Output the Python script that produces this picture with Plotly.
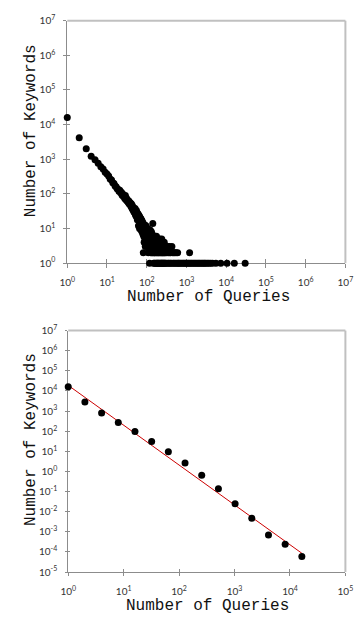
import plotly.graph_objects as go

# ---------------- data: top panel (raw distribution) ----------------
head_x = [1, 2, 3, 4]
head_y = [16000, 4150, 2000, 1230]

body1_x = list(range(5, 101))
body1_y = [960, 770, 610, 520, 420, 375, 330, 270, 250, 210, 200, 170, 160, 140, 135, 120,
           128, 108, 112, 92, 99, 84, 88, 74, 90, 68, 75, 62, 66, 57, 63, 52, 58, 49, 54, 44,
           52, 40, 47, 36, 42, 33, 39, 30, 36, 28, 38, 25, 31, 23, 33, 22, 29, 18, 27, 20,
           26, 12, 24, 17, 23, 10, 21, 15, 20, 13, 19, 9, 18, 12, 17, 8, 16, 11, 15, 7,
           9, 2, 12, 6, 10, 4, 13, 7, 9, 5, 11, 3, 8, 10, 6, 12, 4, 9, 7, 8]

body2_x = list(range(101, 161))
body2_y = [5, 9, 3, 7, 6, 10, 4, 8, 2, 6, 5, 9, 3, 7, 4, 8, 6, 1, 5, 7,
           3, 9, 4, 6, 2, 5, 7, 3, 6, 4, 8, 2, 5, 3, 6, 4, 7, 2, 5, 3,
           6, 14, 4, 5, 2, 6, 3, 4, 1, 5, 3, 4, 2, 6, 3, 1, 4, 2, 5, 3]

body3_x = [162, 164, 166, 168, 170, 172, 174, 176, 178, 180, 182, 184, 186, 188, 190, 192, 194,
           196, 198, 200, 203, 206, 209, 212, 215, 218, 221, 224, 227, 230, 233, 236, 239, 242,
           245, 248, 251, 254, 257, 260, 264, 268, 272, 276, 280, 284, 288, 292, 296, 300]
body3_y = [4, 2, 5, 1, 3, 4, 2, 6, 1, 3, 2, 4, 1, 3, 5, 2, 1, 3, 4, 2,
           1, 3, 2, 5, 1, 3, 2, 4, 1, 2, 3, 1, 5, 2, 1, 3, 2, 4, 1, 2,
           3, 1, 2, 4, 1, 2, 3, 1, 2, 3]

body4_x = [310, 320, 330, 340, 350, 360, 370, 380, 390, 400, 415, 430, 445, 460, 475, 490,
           510, 530, 550, 575, 600, 620]
body4_y = [1, 2, 3, 1, 2, 1, 3, 2, 1, 2, 1, 3, 2, 1, 2, 1, 2, 1, 2, 1, 2, 1]

tail_x = [650, 700, 760, 820, 880, 950, 1020, 1100, 1200, 1180, 1280, 1380, 1500, 1620, 1750,
          1900, 2050, 2200, 2400, 2600, 2800, 3000, 3300, 3600, 4000, 4500, 5500, 7300, 10500,
          16000, 30000]
tail_y = [1, 1, 1, 1, 1, 1, 1, 1, 2, 1, 1, 1, 1, 1, 1, 1, 1, 1, 1, 1, 1, 1, 1, 1, 1, 1, 1, 1,
          1, 1, 1]

top_x = head_x + body1_x + body2_x + body3_x + body4_x + tail_x
top_y = head_y + body1_y + body2_y + body3_y + body4_y + tail_y

# ---------------- data: bottom panel (log-binned) ----------------
bin_x = [1, 2, 4, 8, 16, 32, 64, 128, 256, 512, 1024, 2048, 4096, 8192, 16384]
bin_y = [16000, 2850, 800, 272, 96, 31, 9.5, 2.6, 0.65, 0.14, 0.025, 0.0047, 0.0007,
         0.00024, 0.00006]
fit_a = 1.9e4
fit_b = -1.98
fit_x = [1, 16384]
fit_y = [fit_a * v ** fit_b for v in fit_x]

# ---------------- tick labels ----------------
top_tickvals = [10 ** k for k in range(0, 8)]
top_ticktext = ["10<sup>%d</sup>" % k for k in range(0, 8)]
bx_tickvals = [10 ** k for k in range(0, 6)]
bx_ticktext = ["10<sup>%d</sup>" % k for k in range(0, 6)]
by_tickvals = [10.0 ** k for k in range(-5, 8)]
by_ticktext = ["10<sup>%s</sup>" % (str(k) if k >= 0 else "-" + str(-k)) for k in range(-5, 8)]

W, H = 362, 624
AX = "#8c8c8c"
FR = "#c0c0c0"
TF = dict(family="Lato", size=10, color="#333333")
TITLEF = dict(family="Liberation Mono", size=16, color="#111111")

fig = go.Figure()
fig.add_trace(go.Scatter(x=top_x, y=top_y, mode="markers", xaxis="x", yaxis="y",
                         marker=dict(color="black", size=7), cliponaxis=False,
                         hoverinfo="skip"))
fig.add_trace(go.Scatter(x=fit_x, y=fit_y, mode="lines", xaxis="x2", yaxis="y2",
                         line=dict(color="#cc0000", width=1), cliponaxis=False,
                         hoverinfo="skip"))
fig.add_trace(go.Scatter(x=bin_x, y=bin_y, mode="markers", xaxis="x2", yaxis="y2",
                         marker=dict(color="black", size=7), cliponaxis=False,
                         hoverinfo="skip"))
# empty traces to host the inside-tick overlay axes
for xa, ya in [("x3", "y"), ("x", "y3"), ("x4", "y2"), ("x2", "y4")]:
    fig.add_trace(go.Scatter(x=[], y=[], xaxis=xa, yaxis=ya, hoverinfo="skip"))

top_dx = [62 / W, 353 / W]
top_dy = [1 - 261 / H, 1 - 13 / H]
bot_dx = [63 / W, 353 / W]
bot_dy = [1 - 577 / H, 1 - 330 / H]

def main_axis(domain, anchor, rng, tv, tt, ticklen, standoff):
    return dict(domain=domain, anchor=anchor, type="log", range=rng, tickvals=tv,
                ticktext=tt, ticks="outside", ticklen=ticklen, tickwidth=1, tickcolor=AX,
                showline=True, linecolor=AX, linewidth=1, showgrid=False, zeroline=False,
                tickfont=TF, layer="below traces", ticklabelstandoff=standoff)

def over_axis(over, anchor, rng, tv, ticklen, side):
    return dict(overlaying=over, anchor=anchor, type="log", range=rng, tickvals=tv,
                ticks="inside", ticklen=ticklen, tickwidth=1, tickcolor=AX,
                showticklabels=False, showline=False, showgrid=False, zeroline=False,
                side=side, layer="below traces")

fig.update_layout(
    width=W, height=H, margin=dict(l=0, r=0, t=0, b=0),
    paper_bgcolor="white", plot_bgcolor="white", showlegend=False,
    xaxis=main_axis(top_dx, "y", [0, 7], top_tickvals, top_ticktext, 4, 6),
    yaxis=main_axis(top_dy, "x", [0, 7], top_tickvals, top_ticktext, 3, 6),
    xaxis2=main_axis(bot_dx, "y2", [0, 5], bx_tickvals, bx_ticktext, 3, 7),
    yaxis2=main_axis(bot_dy, "x2", [-5, 7], by_tickvals, by_ticktext, 2, 6),
    xaxis3=over_axis("x", "y", [0, 7], top_tickvals, 4, "bottom"),
    yaxis3=over_axis("y", "x", [0, 7], top_tickvals, 3, "left"),
    xaxis4=over_axis("x2", "y2", [0, 5], bx_tickvals, 3, "bottom"),
    yaxis4=over_axis("y2", "x2", [-5, 7], by_tickvals, 2, "left"),
)

# light frame lines on top and right of each panel
for xr, yr in [("x", "y"), ("x2", "y2")]:
    fig.add_shape(type="line", xref=xr + " domain", yref=yr + " domain", x0=0, x1=1, y0=1, y1=1,
                  line=dict(color=FR, width=2), layer="below")
    fig.add_shape(type="line", xref=xr + " domain", yref=yr + " domain", x0=1, x1=1, y0=0, y1=1,
                  line=dict(color=FR, width=2), layer="below")

ann = [
    ("Number of Queries", 210 / W, 1 - 296 / H, 0),
    ("Number of Keywords", 24 / W, 1 - 125 / H, -90),
    ("Number of Queries", 209 / W, 1 - 612 / H, 0),
    ("Number of Keywords", 24 / W, 1 - 441 / H, -90),
]
for text, x, y, ang in ann:
    fig.add_annotation(text=text, x=x, y=y, xref="paper", yref="paper", showarrow=False,
                       xanchor="center", yanchor="middle", textangle=ang, font=TITLEF)

fig.write_html("out.html")
